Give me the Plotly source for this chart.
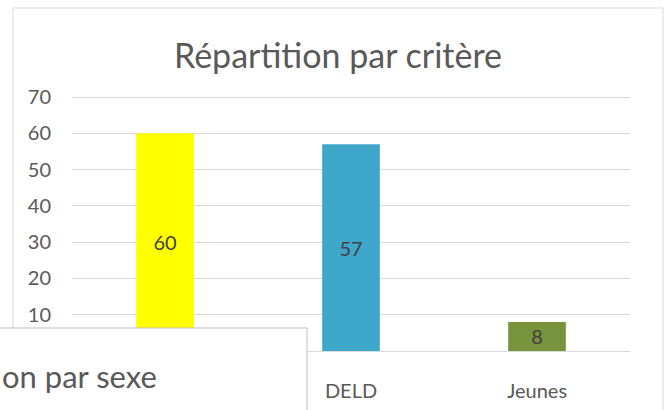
import plotly.graph_objects as go

categories = ["RSA", "DELD", "Jeunes"]
category_labels = ["", "DELD", "Jeunes"]
values = [60, 57, 8]
bar_colors = ["#FFFF00", "#3FA8CA", "#77933C"]
y_ticks = [0, 10, 20, 30, 40, 50, 60, 70]
y_tick_labels = ["", "10", "20", "30", "40", "50", "60", "70"]

W, H = 672, 410
L, R, T, B = 72, 42, 96, 59
pw, ph = W - L - R, H - T - B

def px(x):
    return (x - L) / pw

def py(y):
    return (H - B - y) / ph

FONT = "Lato"
GREY = "#595959"

fig = go.Figure(go.Bar(
    x=categories, y=values,
    marker=dict(color=bar_colors, line=dict(width=0)),
    text=[str(v) for v in values],
    textposition="inside", insidetextanchor="middle",
    textangle=0, constraintext="none",
    textfont=dict(family=FONT, size=20, color="#404040"),
    width=0.31,
    cliponaxis=False,
))

fig.update_layout(
    width=W, height=H,
    margin=dict(l=L, r=R, t=T, b=B, autoexpand=False),
    paper_bgcolor="white", plot_bgcolor="white",
    showlegend=False,
    title=dict(text="Répartition par critère", x=338 / W, xanchor="center",
               y=1 - 56 / H, yanchor="middle", yref="container",
               font=dict(family=FONT, size=34, color=GREY)),
    font=dict(family=FONT, color=GREY),
    uniformtext=dict(mode=False),
)
fig.update_yaxes(range=[0, 70.3], tickvals=y_ticks, ticktext=y_tick_labels,
                 showgrid=True, gridcolor="#D9D9D9", gridwidth=1,
                 zeroline=False, showline=False, ticks="", automargin=False,
                 ticklabelstandoff=20,
                 tickfont=dict(family=FONT, size=20, color=GREY))
fig.update_xaxes(tickvals=categories, ticktext=category_labels,
                 showgrid=False, showline=True, linecolor="#D9D9D9",
                 ticks="", ticklabelstandoff=22, automargin=False,
                 tickfont=dict(family=FONT, size=20, color=GREY))

# outer chart border
fig.add_shape(type="rect", xref="paper", yref="paper",
              x0=px(13), x1=px(663), y0=py(420), y1=py(8),
              line=dict(color="#D9D9D9", width=1), fillcolor="rgba(0,0,0,0)",
              layer="below")
# overlapping second chart box
fig.add_shape(type="rect", xref="paper", yref="paper",
              x0=px(-5), x1=px(307), y0=py(420), y1=py(328),
              line=dict(color="#BFBFBF", width=1), fillcolor="white",
              layer="above")
fig.add_annotation(text="on par sexe", xref="paper", yref="paper",
                   x=px(0), y=py(376), xanchor="left", yanchor="middle",
                   showarrow=False,
                   font=dict(family=FONT, size=31, color=GREY))

fig.write_html("out.html", config={"displayModeBar": False},
               post_script="document.body.style.margin='0';document.body.style.padding='0';")
